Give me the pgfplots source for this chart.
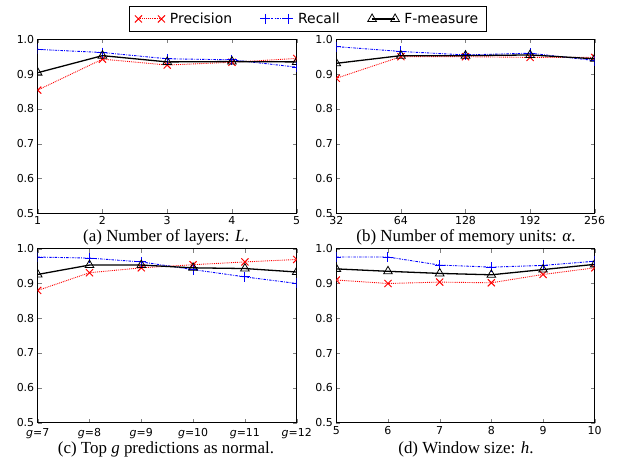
\documentclass[border=0pt]{standalone}
\usepackage{pgfplots}
\pgfplotsset{compat=1.18}
\usepackage{fontspec}
\setmainfont{Liberation Serif}
\newfontfamily\djv{DejaVu Sans}
\begin{document}
\begin{tikzpicture}
\useasboundingbox (0,0) rectangle (618bp,460bp);
\pgfplotsset{
  panel/.style={
    scale only axis, width=259bp, height=174bp, anchor=south west,
    ymin=0.5, ymax=1.0, ytick={0.5,0.6,0.7,0.8,0.9,1.0},
    yticklabel style={/pgf/number format/fixed,/pgf/number format/fixed zerofill,/pgf/number format/precision=1},
    /pgf/number format/assume math mode=true,
    tick label style={font=\djv\fontsize{11}{12}\selectfont},
    tick align=inside, major tick length=4bp,
    axis line style={line width=0.9pt},
    clip marker paths=true,
  },
  prec/.style={red, densely dotted, line width=0.9pt, mark=x, mark size=5bp, mark options={solid, red, line width=1bp}},
  rec/.style={blue, dash pattern=on 2.5pt off 1.2pt on 0.8pt off 1.2pt, line width=0.9pt, mark=+, mark size=5bp, mark options={solid, blue, line width=1bp}},
  fm/.style={black, solid, line width=1.3pt, mark=triangle, mark size=5bp, mark options={solid, black, line width=0.8pt, fill=none}},
  legend image code/.code={\draw[mark repeat=2,mark phase=1,#1] plot coordinates {(0bp,0bp) (11.5bp,0bp) (23bp,0bp)};},
}
% (a)
\begin{axis}[panel, at={(37.7bp,246.7bp)}, xmin=1, xmax=5, xtick={1,2,3,4,5},
  legend style={at={(axis description cs:1.042,1.117)}, anchor=center, legend columns=3,
    font=\djv\fontsize{14}{16}\selectfont, draw=black, line width=0.6pt, inner ysep=4.5bp, inner xsep=6bp,
    /tikz/every even column/.append style={column sep=26bp},
    /tikz/every odd column/.append style={column sep=3bp}}]
\addplot[prec] coordinates {(1,0.854) (2,0.943) (3,0.926) (4,0.934) (5,0.945)};
\addlegendentry{Precision}
\addplot[rec] coordinates {(1,0.971) (2,0.962) (3,0.944) (4,0.941) (5,0.920)};
\addlegendentry{Recall}
\addplot[fm] coordinates {(1,0.904) (2,0.953) (3,0.935) (4,0.936) (5,0.935)};
\addlegendentry{F-measure}
\end{axis}
% (b)
\begin{axis}[panel, at={(336.3bp,246.7bp)}, width=258.4bp, xmin=0, xmax=4, xtick={0,1,2,3,4}, xticklabels={32,64,128,192,256}]
\addplot[prec] coordinates {(0,0.888) (1,0.950) (2,0.950) (3,0.948) (4,0.948)};
\addplot[rec] coordinates {(0,0.979) (1,0.965) (2,0.955) (3,0.960) (4,0.939)};
\addplot[fm] coordinates {(0,0.931) (1,0.953) (2,0.953) (3,0.955) (4,0.944)};
\end{axis}
% (c)
\begin{axis}[panel, at={(37.7bp,37.3bp)}, xmin=7, xmax=12, xtick={7,8,9,10,11,12},
  xticklabels={{\itshape g}=7,{\itshape g}=8,{\itshape g}=9,{\itshape g}=10,{\itshape g}=11,{\itshape g}=12},
  yticklabel style={inner ysep=0pt, text height=7.5bp, text depth=0pt},
  xticklabel style={font=\djv\fontsize{11}{12}\selectfont, inner ysep=0.5bp, yshift=-5bp, text height=8bp, text depth=2.5bp}]
\addplot[prec] coordinates {(7,0.880) (8,0.931) (9,0.945) (10,0.954) (11,0.962) (12,0.969)};
\addplot[rec] coordinates {(7,0.976) (8,0.973) (9,0.962) (10,0.940) (11,0.919) (12,0.900)};
\addplot[fm] coordinates {(7,0.926) (8,0.953) (9,0.953) (10,0.945) (11,0.943) (12,0.933)};
\end{axis}
% (d)
\begin{axis}[panel, at={(336.3bp,37.3bp)}, width=258.4bp, xmin=5, xmax=10, xtick={5,6,7,8,9,10}]
\addplot[prec] coordinates {(5,0.910) (6,0.900) (7,0.904) (8,0.902) (9,0.926) (10,0.945)};
\addplot[rec] coordinates {(5,0.976) (6,0.976) (7,0.953) (8,0.947) (9,0.952) (10,0.964)};
\addplot[fm] coordinates {(5,0.942) (6,0.935) (7,0.929) (8,0.925) (9,0.940) (10,0.955)};
\end{axis}
\begin{scope}[every node/.style={font=\fontsize{17}{20}\selectfont, inner sep=0pt}]
\node at (166bp,223bp) {(a) Number of layers: \textit{L}.};
\node at (466bp,223bp) {(b) Number of memory units: \textit{α}.};
\node at (166bp,11bp) {(c) Top \textit{g} predictions as normal.};
\node at (466bp,11bp) {(d) Window size: \textit{h}.};
\end{scope}
\end{tikzpicture}
\end{document}
